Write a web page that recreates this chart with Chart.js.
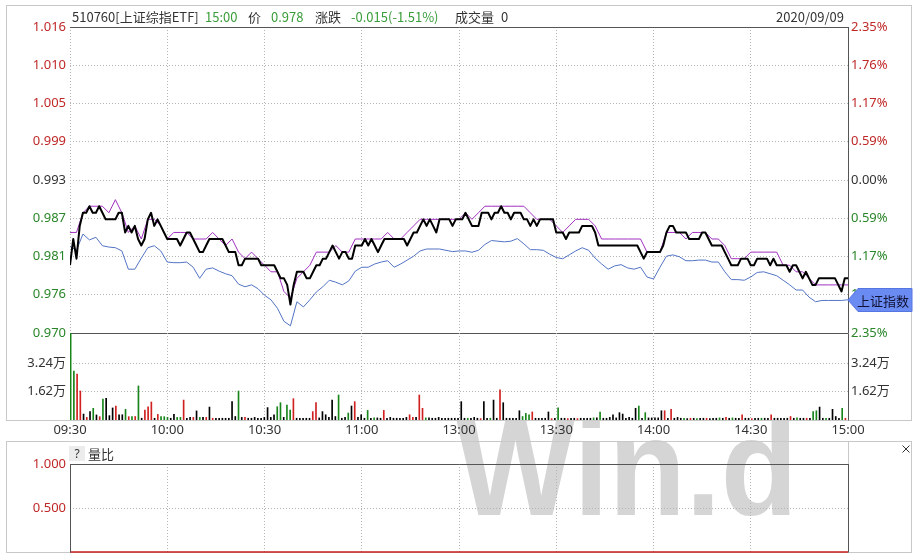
<!DOCTYPE html>
<html>
<head>
<meta charset="utf-8">
<title>510760 intraday</title>
<script src="https://cdn.jsdelivr.net/npm/chart.js@4.4.1/dist/chart.umd.min.js"></script>
<style>
  html, body { margin: 0; padding: 0; background: #fff; overflow: hidden; }
  body { width: 916px; height: 558px; position: relative; font-family: "Noto Sans", "Noto Sans CJK SC", sans-serif; }
  canvas { position: absolute; left: 0; }
  .hd { position: absolute; top: 8px; font-size: 13px; line-height: 18px; color: #333; white-space: nowrap;
        font-family: "Noto Sans CJK SC", "Noto Sans", sans-serif; }
  .g { color: #3a9d3a; }
  #qbox { position: absolute; left: 69px; top: 446px; width: 16px; height: 15px; background: #ececec;
          font-size: 12px; line-height: 15px; text-align: center; color: #333; }
  #qlabel { position: absolute; left: 88px; top: 445px; font-size: 13px; line-height: 18px; color: #333;
            font-family: "Noto Sans CJK SC", sans-serif; }
</style>
</head>
<body>
<canvas id="bg" width="916" height="558" style="top:0"></canvas>
<canvas id="priceChart" width="916" height="347" style="top:0"></canvas>
<canvas id="volChart" width="916" height="125" style="top:320px"></canvas>
<canvas id="ratioChart" width="916" height="126" style="top:440px"></canvas>

<div class="hd" style="left:72px">510760[上证综指ETF]</div>
<div class="hd g" style="left:205px">15:00</div>
<div class="hd" style="left:248px">价</div>
<div class="hd g" style="left:271px">0.978</div>
<div class="hd" style="left:315px">涨跌</div>
<div class="hd g" style="left:351px">-0.015(-1.51%)</div>
<div class="hd" style="left:455px">成交量</div>
<div class="hd" style="left:501px">0</div>
<div class="hd" style="right:72px">2020/09/09</div>
<div id="qbox">?</div>
<div id="qlabel">量比</div>

<script>
// ---- data ----
var prevClose = 0.993;
var pctRange = 2.35;
var tickPcts = [-2.35, -1.7625, -1.175, -0.5875, 0, 0.5875, 1.175, 1.7625, 2.35];
var priceTicks = ['0.970', '0.976', '0.981', '0.987', '0.993', '0.999', '1.005', '1.010', '1.016'];
var pctTicks = ['2.35%', '1.76%', '1.17%', '0.59%', '0.00%', '0.59%', '1.17%', '1.76%', '2.35%'];
var timeTicks = [0, 30, 60, 90, 120, 150, 180, 210, 240];
var timeLabels = ['09:30', '10:00', '10:30', '11:00', '13:00', '13:30', '14:00', '14:30', '15:00'];
var volTicks = [1.62, 3.24];
var volTickLabels = ['1.62万', '3.24万'];
var ratioTicks = [0.5, 1.0];
var ratioTickLabels = ['0.500', '1.000'];

// last price, one value per minute 09:30 .. 15:00
var price = [
  0.980, 0.984, 0.981, 0.986, 0.988, 0.988, 0.989, 0.988, 0.988, 0.989,
  0.988, 0.987, 0.987, 0.987, 0.987, 0.988, 0.988, 0.985, 0.986, 0.985,
  0.986, 0.984, 0.983, 0.984, 0.987, 0.988, 0.986, 0.987, 0.986, 0.985,
  0.984, 0.984, 0.984, 0.984, 0.983, 0.984, 0.985, 0.985, 0.984, 0.983,
  0.982, 0.982, 0.983, 0.984, 0.984, 0.984, 0.984, 0.984, 0.983, 0.982,
  0.982, 0.982, 0.980, 0.980, 0.981, 0.981, 0.981, 0.981, 0.981, 0.980,
  0.980, 0.980, 0.980, 0.980, 0.979, 0.978, 0.978, 0.977, 0.974, 0.977,
  0.979, 0.979, 0.979, 0.978, 0.978, 0.979, 0.980, 0.980, 0.981, 0.981,
  0.982, 0.983, 0.982, 0.981, 0.982, 0.982, 0.981, 0.981, 0.983, 0.983,
  0.983, 0.984, 0.983, 0.984, 0.983, 0.982, 0.983, 0.984, 0.984, 0.984,
  0.984, 0.984, 0.984, 0.984, 0.983, 0.984, 0.985, 0.985, 0.986, 0.987,
  0.986, 0.987, 0.986, 0.985, 0.987, 0.987, 0.987, 0.987, 0.986, 0.987,
  0.987, 0.987, 0.988, 0.987, 0.986, 0.986, 0.986, 0.988, 0.988, 0.988,
  0.987, 0.988, 0.988, 0.989, 0.988, 0.988, 0.987, 0.988, 0.988, 0.988,
  0.987, 0.987, 0.986, 0.987, 0.986, 0.987, 0.987, 0.987, 0.987, 0.987,
  0.985, 0.985, 0.985, 0.984, 0.985, 0.985, 0.985, 0.985, 0.986, 0.986,
  0.986, 0.986, 0.985, 0.983, 0.983, 0.983, 0.983, 0.983, 0.983, 0.983,
  0.983, 0.983, 0.983, 0.983, 0.983, 0.983, 0.982, 0.981, 0.982, 0.982,
  0.982, 0.982, 0.982, 0.983, 0.985, 0.986, 0.986, 0.985, 0.985, 0.985,
  0.985, 0.984, 0.984, 0.984, 0.984, 0.985, 0.985, 0.984, 0.983, 0.983,
  0.983, 0.983, 0.982, 0.981, 0.980, 0.980, 0.980, 0.981, 0.981, 0.981,
  0.980, 0.980, 0.981, 0.981, 0.981, 0.981, 0.980, 0.981, 0.980, 0.980,
  0.980, 0.980, 0.979, 0.980, 0.980, 0.979, 0.978, 0.979, 0.978, 0.977,
  0.977, 0.978, 0.978, 0.978, 0.978, 0.978, 0.978, 0.977, 0.976, 0.978,
  0.978
];
// average price, one value every 2 minutes
var avgPrice = [
  0.985, 0.985, 0.988, 0.989, 0.989, 0.989, 0.988, 0.990, 0.988, 0.985,
  0.986, 0.984, 0.987, 0.987, 0.986, 0.984, 0.985, 0.985, 0.985, 0.984,
  0.984, 0.984, 0.985, 0.984, 0.983, 0.984, 0.982, 0.981, 0.982, 0.981,
  0.980, 0.979, 0.979, 0.976, 0.975, 0.978, 0.979, 0.980, 0.982, 0.982,
  0.982, 0.983, 0.982, 0.982, 0.984, 0.984, 0.984, 0.984, 0.984, 0.985,
  0.984, 0.984, 0.985, 0.986, 0.987, 0.987, 0.987, 0.987, 0.987, 0.987,
  0.987, 0.988, 0.987, 0.988, 0.989, 0.989, 0.989, 0.989, 0.989, 0.989,
  0.989, 0.988, 0.987, 0.987, 0.987, 0.986, 0.985, 0.986, 0.987, 0.987,
  0.987, 0.986, 0.984, 0.984, 0.984, 0.984, 0.984, 0.984, 0.984, 0.982,
  0.982, 0.982, 0.985, 0.985, 0.985, 0.984, 0.985, 0.985, 0.985, 0.984,
  0.984, 0.983, 0.981, 0.981, 0.981, 0.982, 0.982, 0.982, 0.982, 0.982,
  0.980, 0.980, 0.979, 0.979, 0.978, 0.977, 0.977, 0.977, 0.977, 0.977,
  0.977
];
// 上证指数 change in %, one value every 2 minutes
var indexPct = [
  -1.02, -1.08, -0.83, -0.92, -0.88, -1.01, -1.03, -1.04, -1.09, -1.37,
  -1.37, -1.20, -1.04, -1.01, -1.09, -1.26, -1.27, -1.27, -1.26, -1.34,
  -1.51, -1.37, -1.35, -1.40, -1.44, -1.47, -1.60, -1.64, -1.61, -1.67,
  -1.77, -1.84, -1.97, -2.17, -2.24, -1.87, -1.95, -1.84, -1.72, -1.64,
  -1.54, -1.57, -1.61, -1.55, -1.40, -1.34, -1.34, -1.29, -1.26, -1.24,
  -1.34, -1.29, -1.23, -1.17, -1.09, -1.06, -1.06, -1.06, -1.08, -1.10,
  -1.09, -1.09, -1.11, -1.08, -0.99, -0.93, -0.94, -0.95, -0.94, -0.90,
  -0.98, -1.07, -1.07, -1.08, -1.14, -1.19, -1.21, -1.15, -1.09, -1.04,
  -1.08, -1.20, -1.29, -1.37, -1.32, -1.30, -1.35, -1.37, -1.34, -1.49,
  -1.52, -1.34, -1.17, -1.15, -1.18, -1.24, -1.24, -1.23, -1.23, -1.26,
  -1.26, -1.41, -1.53, -1.53, -1.54, -1.49, -1.42, -1.41, -1.44, -1.47,
  -1.54, -1.61, -1.69, -1.69, -1.80, -1.87, -1.85, -1.85, -1.85, -1.85,
  -1.84
];
// volume per minute, 万
var volume = [
  6.00, 2.80, 2.63, 1.66, 0.34, 0.15, 0.48, 0.67, 0.29, 0.19,
  1.20, 1.24, 0.25, 0.69, 0.80, 0.30, 0.30, 0.61, 0.19, 0.20,
  0.20, 1.95, 0.10, 0.57, 0.76, 1.03, 0.10, 0.32, 0.20, 0.19,
  0.15, 0.10, 0.32, 0.15, 0.15, 1.14, 0.10, 0.15, 0.15, 0.52,
  0.15, 0.15, 0.15, 0.74, 0.10, 0.10, 0.10, 0.10, 0.10, 0.10,
  1.05, 0.20, 1.66, 0.15, 0.15, 0.10, 0.10, 0.15, 0.10, 0.10,
  0.15, 0.71, 0.15, 0.30, 0.76, 0.99, 0.15, 0.86, 0.57, 1.22,
  0.10, 0.10, 0.10, 0.10, 0.10, 0.48, 0.99, 0.12, 0.48, 0.30,
  0.15, 1.14, 0.20, 1.43, 0.10, 0.15, 0.40, 0.80, 1.05, 0.15,
  0.30, 0.10, 0.55, 0.10, 0.12, 0.12, 0.10, 0.55, 0.10, 0.15,
  0.10, 0.10, 0.10, 0.10, 0.15, 0.30, 0.15, 0.15, 1.43, 0.67,
  0.12, 0.12, 0.10, 0.10, 0.15, 0.10, 0.10, 0.10, 0.10, 0.10,
  0.10, 1.05, 0.10, 0.10, 0.10, 0.15, 0.10, 0.08, 1.05, 0.10,
  0.10, 1.14, 0.10, 1.72, 0.99, 0.10, 0.10, 0.10, 0.10, 0.53,
  0.20, 0.38, 0.29, 0.46, 0.10, 0.10, 0.10, 0.10, 0.46, 0.08,
  0.10, 0.69, 0.10, 0.10, 0.08, 0.10, 0.10, 0.08, 0.10, 0.10,
  0.10, 0.10, 0.12, 0.12, 0.46, 0.10, 0.10, 0.15, 0.29, 0.12,
  0.42, 0.34, 0.10, 0.15, 0.10, 0.67, 0.80, 0.10, 0.42, 0.12,
  0.12, 0.12, 0.12, 0.53, 0.53, 0.10, 0.61, 0.10, 0.15, 0.10,
  0.10, 0.08, 0.10, 0.10, 0.08, 0.10, 0.10, 0.10, 0.08, 0.10,
  0.10, 0.12, 0.10, 0.15, 0.10, 0.12, 0.10, 0.10, 0.29, 0.10,
  0.10, 0.08, 0.10, 0.10, 0.10, 0.10, 0.10, 0.29, 0.10, 0.10,
  0.10, 0.10, 0.10, 0.20, 0.10, 0.12, 0.10, 0.10, 0.10, 0.10,
  0.48, 0.53, 0.74, 0.10, 0.10, 0.10, 0.61, 0.20, 0.10, 0.67,
  0.10
];
// r = up, g = down, k = flat
var volumeDir = (
  'ggrrkrkgkr' + 'gkkkrkkgrg' + 'rgkrrrkrgg' + 'gkkggrkkrk' + 'gkrkrkkkkk' +
  'kkgkrkkkkk' + 'kkkkggkggr' + 'kkkkkrrkkk' + 'kkkgkkgkrk' + 'kkgkgkkrkk' +
  'kkkkkrrkrr' + 'gkkkkkkkkk' + 'kkkgkkkrkk' + 'gkkrkkkkkk' + 'gggrkkkkkr' +
  'kgkkrkkrkk' + 'kkgkgkkkkk' + 'kkkkkkgkgk' + 'kkkkrkrkkk' + 'gkrkgkkrkk' +
  'kgkrkgkkrk' + 'krkkgkkrkk' + 'kkkrkgkkrk' + 'ggkkgkkkkg' + 'r'
).split('');
var ratioMinutes = [0, 240];
var ratio = [0, 0];

// ---- styling helpers ----
var RED = '#c02828', GREEN = '#2a862a', DARK = '#333333';
var GRID = '#b4b4b4', FRAME = '#555555';
var dirColor = { r: '#d02020', g: '#17851a', k: '#000000' };

Chart.defaults.font.family = '"Noto Sans", "Noto Sans CJK SC", sans-serif';
Chart.defaults.font.size = 13;
Chart.defaults.color = DARK;
Chart.defaults.animation = false;

var minute1 = price.map(function (v, i) { return i; });
var minute2 = avgPrice.map(function (v, i) { return i * 2; });
var pMin = prevClose * (1 - pctRange / 100);
var pMax = prevClose * (1 + pctRange / 100);

function xy(values, xs) { return values.map(function (v, i) { return { x: xs[i], y: v }; }); }
function fixTicks(values) {
  return function (scale) { scale.ticks = values.map(function (v) { return { value: v }; }); };
}
function signColor(ctx) {
  if (ctx.index < 4) return GREEN;
  if (ctx.index > 4) return RED;
  return DARK;
}
// 241 volume bars spread over the session
function barX(k) { return (k + 0.2) * 240 / 241; }

// solid edges of the plot area
var framePlugin = {
  id: 'frame',
  afterDraw: function (chart, args, opts) {
    var a = chart.chartArea, ctx = chart.ctx;
    var L = Math.round(a.left) + 0.5, R = Math.round(a.right) + 0.5;
    var T = Math.round(a.top) + 0.5, B = Math.round(a.bottom) + 0.5;
    ctx.save();
    ctx.strokeStyle = FRAME;
    ctx.lineWidth = 1;
    ctx.beginPath();
    var s = opts.sides || '';
    if (s.indexOf('T') >= 0) { ctx.moveTo(L - 0.5, T); ctx.lineTo(R + 0.5, T); }
    if (s.indexOf('B') >= 0) { ctx.moveTo(L - 0.5, B); ctx.lineTo(R + 0.5, B); }
    if (s.indexOf('L') >= 0) { ctx.moveTo(L, T); ctx.lineTo(L, B); }
    if (s.indexOf('R') >= 0) { ctx.moveTo(R, T); ctx.lineTo(R, B); }
    ctx.stroke();
    ctx.restore();
  }
};

// "上证指数" tag pointing at the last index value
var flagPlugin = {
  id: 'flag',
  afterDraw: function (chart) {
    var ctx = chart.ctx, a = chart.chartArea;
    var y = Math.round(chart.scales.pct.getPixelForValue(indexPct[indexPct.length - 1]));
    var x0 = a.right;
    ctx.save();
    ctx.beginPath();
    ctx.moveTo(x0, y);
    ctx.lineTo(x0 + 10, y - 11.5);
    ctx.lineTo(912, y - 11.5);
    ctx.lineTo(912, y + 11.5);
    ctx.lineTo(x0 + 10, y + 11.5);
    ctx.closePath();
    ctx.fillStyle = '#6a8cf2';
    ctx.fill();
    ctx.strokeStyle = '#5575e2';
    ctx.lineWidth = 1;
    ctx.stroke();
    ctx.fillStyle = '#111133';
    ctx.font = '13px "Noto Sans CJK SC", sans-serif';
    ctx.textBaseline = 'middle';
    ctx.fillText('上证指数', x0 + 9, y + 1);
    ctx.restore();
  }
};

var gridOpts = { color: GRID, drawTicks: false };
var borderOpts = { display: false, dash: [1, 2] };

// ---- price panel ----
new Chart(document.getElementById('priceChart'), {
  type: 'line',
  data: {
    datasets: [
      { data: xy(price, minute1), yAxisID: 'y',
        borderColor: '#000', borderWidth: 2, pointRadius: 0, tension: 0, borderJoinStyle: 'round' },
      { data: xy(avgPrice, minute2), yAxisID: 'y',
        borderColor: '#a030c0', borderWidth: 1, pointRadius: 0, tension: 0 },
      { data: xy(indexPct, minute2), yAxisID: 'pct',
        borderColor: '#5273c4', borderWidth: 1, pointRadius: 0, tension: 0 }
    ]
  },
  options: {
    responsive: false,
    events: [],
    layout: { padding: { top: 27, bottom: 14, left: 0, right: 0 } },
    plugins: { legend: { display: false }, tooltip: { enabled: false }, frame: { sides: 'TRB' } },
    scales: {
      x: { type: 'linear', min: 0, max: 240, afterBuildTicks: fixTicks(timeTicks),
           ticks: { display: false }, grid: gridOpts, border: borderOpts,
           afterFit: function (s) { s.height = 0; } },
      y: { position: 'left', min: pMin, max: pMax,
           afterBuildTicks: fixTicks(tickPcts.map(function (p) { return prevClose * (1 + p / 100); })),
           ticks: { autoSkip: false, padding: 4, color: signColor,
                    callback: function (v, i) { return priceTicks[i]; } },
           grid: gridOpts, border: borderOpts,
           afterFit: function (s) { s.width = 70; } },
      pct: { position: 'right', min: -pctRange, max: pctRange, afterBuildTicks: fixTicks(tickPcts),
             ticks: { autoSkip: false, padding: 3, color: signColor,
                      callback: function (v, i) { return pctTicks[i]; } },
             grid: { display: false, drawTicks: false }, border: { display: false },
             afterFit: function (s) { s.width = 68; } }
    }
  },
  plugins: [framePlugin, flagPlugin]
});

// ---- volume panel ----
new Chart(document.getElementById('volChart'), {
  type: 'bar',
  data: {
    datasets: [{
      data: volume.map(function (v, k) { return { x: barX(k), y: v }; }),
      backgroundColor: volumeDir.map(function (d) { return dirColor[d]; }),
      barThickness: 1, borderWidth: 0, yAxisID: 'y'
    }]
  },
  options: {
    responsive: false,
    events: [],
    layout: { padding: { top: 13, bottom: 0, left: 0, right: 0 } },
    plugins: { legend: { display: false }, tooltip: { enabled: false }, frame: { sides: 'R' } },
    scales: {
      x: { type: 'linear', min: 0, max: 240, offset: false, afterBuildTicks: fixTicks(timeTicks),
           ticks: { autoSkip: false, maxRotation: 0, padding: 2,
                    callback: function (v, i) { return timeLabels[i]; } },
           grid: { color: GRID, drawTicks: false, offset: false }, border: borderOpts,
           afterFit: function (s) { s.height = 25; } },
      y: { position: 'left', min: 0, max: 4.98, afterBuildTicks: fixTicks(volTicks),
           ticks: { autoSkip: false, padding: 4, callback: function (v, i) { return volTickLabels[i]; } },
           grid: gridOpts, border: borderOpts,
           afterFit: function (s) { s.width = 70; } },
      yr: { position: 'right', min: 0, max: 4.98, afterBuildTicks: fixTicks(volTicks),
            ticks: { autoSkip: false, padding: 3, callback: function (v, i) { return volTickLabels[i]; } },
            grid: { display: false, drawTicks: false }, border: { display: false },
            afterFit: function (s) { s.width = 68; } }
    }
  },
  plugins: [framePlugin]
});

// ---- 量比 panel ----
new Chart(document.getElementById('ratioChart'), {
  type: 'line',
  data: {
    datasets: [{
      data: xy(ratio, ratioMinutes),
      borderColor: '#c81e1e', borderWidth: 1.5, pointRadius: 0, clip: false
    }]
  },
  options: {
    responsive: false,
    events: [],
    layout: { padding: { top: 24, bottom: 14, left: 0, right: 68 } },
    plugins: { legend: { display: false }, tooltip: { enabled: false }, frame: { sides: 'LTR' } },
    scales: {
      x: { type: 'linear', min: 0, max: 240, afterBuildTicks: fixTicks(timeTicks),
           ticks: { display: false }, grid: gridOpts, border: borderOpts,
           afterFit: function (s) { s.height = 0; } },
      y: { position: 'left', min: 0, max: 1, afterBuildTicks: fixTicks(ratioTicks),
           ticks: { autoSkip: false, padding: 4, color: RED,
                    callback: function (v, i) { return ratioTickLabels[i]; } },
           grid: gridOpts, border: borderOpts,
           afterFit: function (s) { s.width = 70; } }
    }
  },
  plugins: [framePlugin]
});

// ---- background: watermark (hidden behind the main panel) and panel frames ----
(function () {
  var c = document.getElementById('bg').getContext('2d');
  c.fillStyle = '#d5d5d5';
  c.font = 'bold 140px "Liberation Sans", sans-serif';
  c.save();
  c.translate(456, 515);
  c.scale(0.9, 1);
  c.fillText('Win.d', 0, 0);
  c.restore();

  c.fillStyle = '#ffffff';
  c.fillRect(6, 5, 906, 416);

  c.strokeStyle = '#c8c8c8';
  c.lineWidth = 1;
  c.strokeRect(6.5, 5.5, 905, 415);
  c.strokeRect(6.5, 441.5, 905, 111);
  c.beginPath();
  c.moveTo(848.5, 442); c.lineTo(848.5, 464);
  c.stroke();
  // close mark
  c.strokeStyle = '#333';
  c.beginPath();
  c.moveTo(902.5, 445.5); c.lineTo(909.5, 452.5);
  c.moveTo(909.5, 445.5); c.lineTo(902.5, 452.5);
  c.stroke();
})();
</script>
</body>
</html>
